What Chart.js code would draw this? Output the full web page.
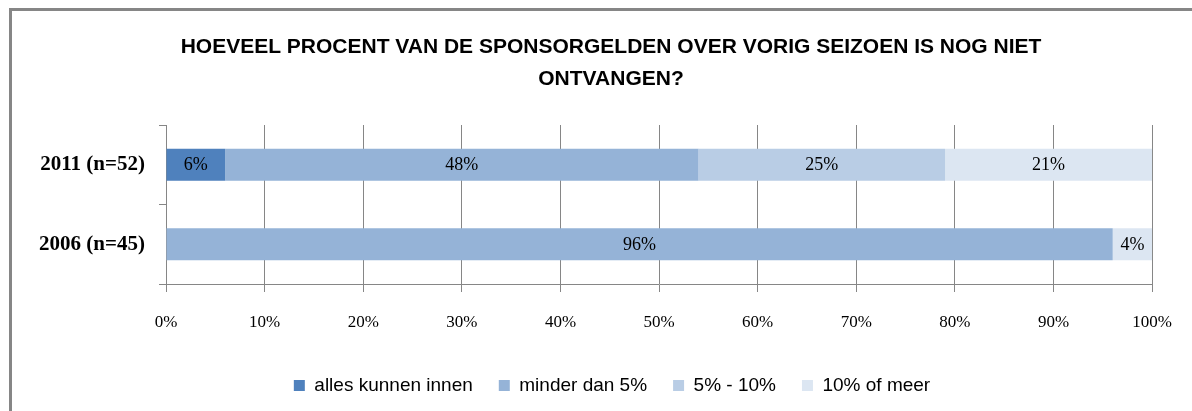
<!DOCTYPE html>
<html>
<head>
<meta charset="utf-8">
<script src="https://cdn.jsdelivr.net/npm/chart.js@4/dist/chart.umd.min.js"></script>
<style>
  html, body { margin: 0; padding: 0; background: #fff; }
  #wrap { position: relative; width: 1192px; height: 411px; }
  #frame {
    position: absolute; left: 9px; top: 8px; right: -10px; bottom: -10px;
    border-left: 3px solid #868686; border-top: 3px solid #868686;
    pointer-events: none;
  }
</style>
</head>
<body>
<div id="wrap">
  <canvas id="chart" width="1192" height="411"></canvas>
  <div id="frame"></div>
</div>
<script>
const titleLines = ["HOEVEEL PROCENT VAN DE SPONSORGELDEN OVER VORIG SEIZOEN IS NOG NIET", "ONTVANGEN?"];
const categories = ["2011 (n=52)", "2006 (n=45)"];
const seriesNames = ["alles kunnen innen", "minder dan 5%", "5% - 10%", "10% of meer"];
const allesKunnenInnen = [6, 0];
const minderDan5 = [48, 96];
const tussen5en10 = [25, 0];
const tienOfMeer = [21, 4];
const xTicks = [0, 10, 20, 30, 40, 50, 60, 70, 80, 90, 100];

const colors = ['#4F81BD', '#95B3D7', '#B9CDE5', '#DCE6F2'];
const gridColor = '#868686';

const seriesValues = [allesKunnenInnen, minderDan5, tussen5en10, tienOfMeer];

// draws the percentages in the middle of every segment
const barLabels = {
  id: 'barLabels',
  afterDatasetsDraw(chart) {
    const ctx = chart.ctx;
    ctx.save();
    ctx.font = '18px "Liberation Serif", serif';
    ctx.fillStyle = '#000';
    ctx.textAlign = 'center';
    ctx.textBaseline = 'middle';
    chart.data.datasets.forEach((ds, i) => {
      const meta = chart.getDatasetMeta(i);
      meta.data.forEach((bar, j) => {
        const v = ds.data[j];
        if (!v) return;
        const p = bar.getCenterPoint();
        ctx.fillText(v + '%', p.x, p.y + 1);
      });
    });
    ctx.restore();
  }
};

// title and legend sit a bit right of the canvas centre in the original
const shiftBlocks = {
  id: 'shiftBlocks',
  afterLayout(chart) {
    const t = chart.titleBlock;
    t.left += 34; t.right += 34;
    const l = chart.legend;
    l.left += 35; l.right += 35;
  }
};

new Chart(document.getElementById('chart'), {
  type: 'bar',
  data: {
    labels: categories,
    datasets: seriesNames.map((name, i) => ({
      label: name,
      data: seriesValues[i],
      backgroundColor: colors[i],
      borderWidth: 0,
      barPercentage: 0.4,
      categoryPercentage: 1
    }))
  },
  options: {
    indexAxis: 'y',
    responsive: false,
    animation: false,
    layout: { padding: { left: 0, right: 38, top: 0, bottom: 6 } },
    plugins: {
      title: {
        display: true,
        text: titleLines,
        color: '#000',
        font: { family: '"Liberation Sans", Arial, sans-serif', size: 21, weight: 'bold', lineHeight: '32px' },
        padding: { top: 31, bottom: 30 }
      },
      legend: {
        position: 'bottom',
        labels: {
          color: '#000',
          font: { family: '"Liberation Sans", Arial, sans-serif', size: 19 },
          boxWidth: 11,
          boxHeight: 11,
          padding: 26
        }
      },
      tooltip: { enabled: false }
    },
    scales: {
      x: {
        stacked: true,
        min: 0,
        max: 100,
        afterBuildTicks: scale => { scale.ticks = xTicks.map(v => ({ value: v })); },
        ticks: {
          color: '#000',
          font: { family: '"Liberation Serif", serif', size: 17 },
          padding: 20,
          callback: v => v + '%'
        },
        grid: { color: gridColor, lineWidth: 1, tickLength: 8, drawOnChartArea: true },
        border: { color: gridColor, width: 1 },
        afterFit: scale => { scale.height = 66; }
      },
      y: {
        stacked: true,
        ticks: {
          color: '#000',
          font: { family: '"Liberation Serif", serif', size: 21, weight: 'bold' },
          padding: 14
        },
        grid: { color: gridColor, lineWidth: 1, tickLength: 7, drawOnChartArea: false, offset: true },
        border: { color: gridColor, width: 1 },
        afterFit: scale => { scale.width = 166; }
      }
    }
  },
  plugins: [barLabels, shiftBlocks]
});
</script>
</body>
</html>
